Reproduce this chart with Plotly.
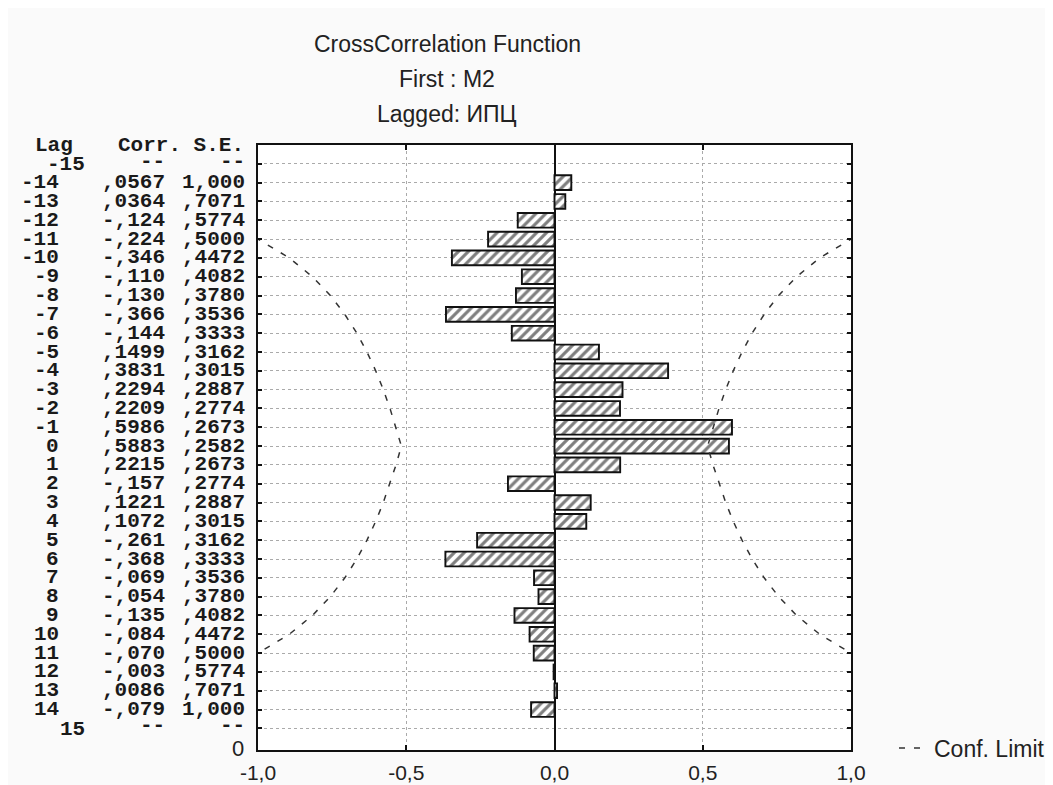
import plotly.graph_objects as go

lags = list(range(-14, 15))
corr = [0.0567, 0.0364, -0.124, -0.224, -0.346, -0.110, -0.130, -0.366, -0.144,
        0.1499, 0.3831, 0.2294, 0.2209, 0.5986, 0.5883, 0.2215, -0.157, 0.1221,
        0.1072, -0.261, -0.368, -0.069, -0.054, -0.135, -0.084, -0.070, -0.003,
        0.0086, -0.079]
se = [1.000, 0.7071, 0.5774, 0.5000, 0.4472, 0.4082, 0.3780, 0.3536, 0.3333,
      0.3162, 0.3015, 0.2887, 0.2774, 0.2673, 0.2582, 0.2673, 0.2774, 0.2887,
      0.3015, 0.3162, 0.3333, 0.3536, 0.3780, 0.4082, 0.4472, 0.5000, 0.5774,
      0.7071, 1.000]
corr_txt = [",0567", ",0364", "-,124", "-,224", "-,346", "-,110", "-,130", "-,366",
            "-,144", ",1499", ",3831", ",2294", ",2209", ",5986", ",5883", ",2215",
            "-,157", ",1221", ",1072", "-,261", "-,368", "-,069", "-,054", "-,135",
            "-,084", "-,070", "-,003", ",0086", "-,079"]
se_txt = ["1,000", ",7071", ",5774", ",5000", ",4472", ",4082", ",3780", ",3536",
          ",3333", ",3162", ",3015", ",2887", ",2774", ",2673", ",2582", ",2673",
          ",2774", ",2887", ",3015", ",3162", ",3333", ",3536", ",3780", ",4082",
          ",4472", ",5000", ",5774", ",7071", "1,000"]
x_ticks = [-1.0, -0.5, 0.0, 0.5, 1.0]
x_ticktext = ["-1,0", "-0,5", "0,0", "0,5", "1,0"]
titles = ["CrossCorrelation Function", "First : M2", "Lagged: ИПЦ"]

conf_hi = [2 * s for s in se]
conf_lo = [-2 * s for s in se]

W, H = 1053, 777
L, R, T, B = 250, 210, 137, 35
pw = W - L - R
ph = H - T - B

def px2paper(px):
    return (px - L) / pw

def py2paper(py):
    return 1 + (T - py) / ph

fig = go.Figure()
fig.add_trace(go.Bar(
    x=corr, y=lags, orientation="h", width=0.78,
    marker=dict(color="white", line=dict(color="#111", width=1.9),
                pattern=dict(shape="/", fgcolor="#000", bgcolor="white",
                             size=7, solidity=0.45)),
    showlegend=False, hoverinfo="skip"))
fig.add_trace(go.Scatter(
    x=conf_lo, y=lags, mode="lines", name="Conf. Limit",
    line=dict(color="#333", width=1.5, dash="6px,9px"), showlegend=True))
fig.add_trace(go.Scatter(
    x=conf_hi, y=lags, mode="lines", name="Conf. Limit",
    line=dict(color="#333", width=1.5, dash="6px,9px"), showlegend=False))

mono = dict(family="Liberation Mono", size=21, color="#1a1a1a")
sans = dict(family="Liberation Sans", size=21, color="#222")
sans23 = dict(family="Liberation Sans", size=23, color="#222")
ann = []
# header
ann.append(dict(text="<b>Lag</b>", x=px2paper(67), y=py2paper(138), xref="paper", yref="paper",
                xanchor="right", yanchor="middle", showarrow=False, font=mono))
ann.append(dict(text="<b>Corr. S.E.</b>", x=px2paper(238), y=py2paper(138), xref="paper",
                yref="paper", xanchor="right", yanchor="middle", showarrow=False, font=mono))
for lg in (-15, 15):
    ann.append(dict(text="<b>%d</b>" % lg, x=px2paper(79), y=lg + 0.05, xref="paper", yref="y",
                    xanchor="right", yanchor="middle", showarrow=False, font=mono))
    ann.append(dict(text="<b>--</b>", x=px2paper(159), y=lg - 0.15, xref="paper", yref="y",
                    xanchor="right", yanchor="middle", showarrow=False, font=mono))
    ann.append(dict(text="<b>--</b>", x=px2paper(239), y=lg - 0.15, xref="paper", yref="y",
                    xanchor="right", yanchor="middle", showarrow=False, font=mono))
for lg, ct, st in zip(lags, corr_txt, se_txt):
    ann.append(dict(text="<b>%d</b>" % lg, x=px2paper(53), y=lg, xref="paper", yref="y",
                    xanchor="right", yanchor="middle", showarrow=False, font=mono))
    ann.append(dict(text="<b>%s</b>" % ct, x=px2paper(159), y=lg, xref="paper", yref="y",
                    xanchor="right", yanchor="middle", showarrow=False, font=mono))
    ann.append(dict(text="<b>%s</b>" % st, x=px2paper(239), y=lg, xref="paper", yref="y",
                    xanchor="right", yanchor="middle", showarrow=False, font=mono))
# "0" label at bottom of y axis
ann.append(dict(text="0", x=px2paper(238), y=py2paper(740), xref="paper", yref="paper",
                xanchor="right", yanchor="middle", showarrow=False,
                font=dict(family="Liberation Sans", size=22, color="#222")))
# titles
for i, t in enumerate(titles):
    ann.append(dict(text=t, x=px2paper(439), y=py2paper(36 + 35 * i),
                    xref="paper", yref="paper", xanchor="center", yanchor="middle",
                    showarrow=False, font=sans23))

fig.update_layout(
    width=W, height=H,
    margin=dict(l=L, r=R, t=T, b=B, autoexpand=False),
    paper_bgcolor="#fafafa", plot_bgcolor="white",
    annotations=ann,
    legend=dict(x=px2paper(886), y=py2paper(740), xanchor="left", yanchor="middle",
                bgcolor="rgba(0,0,0,0)", font=sans23),
)
fig.update_xaxes(
    range=[-1, 1], tickvals=x_ticks, ticktext=x_ticktext,
    showline=True, linecolor="#111", linewidth=2, mirror="allticks",
    ticks="inside", ticklen=5, tickcolor="#111", tickwidth=1.5,
    showgrid=True, gridcolor="#aaa", griddash="dot", gridwidth=1,
    zeroline=True, zerolinecolor="#111", zerolinewidth=1.5,
    tickfont=sans, automargin=False,
    ticklabelstandoff=3,
)
fig.update_yaxes(
    range=[16.15, -16], tickvals=list(range(-15, 16)), showticklabels=False,
    showline=True, linecolor="#111", linewidth=2, mirror="allticks",
    ticks="inside", ticklen=4, tickcolor="#111", tickwidth=1.5,
    showgrid=True, gridcolor="#aaa", griddash="dot", gridwidth=1,
    zeroline=False, automargin=False,
)
fig.write_html("out.html")
